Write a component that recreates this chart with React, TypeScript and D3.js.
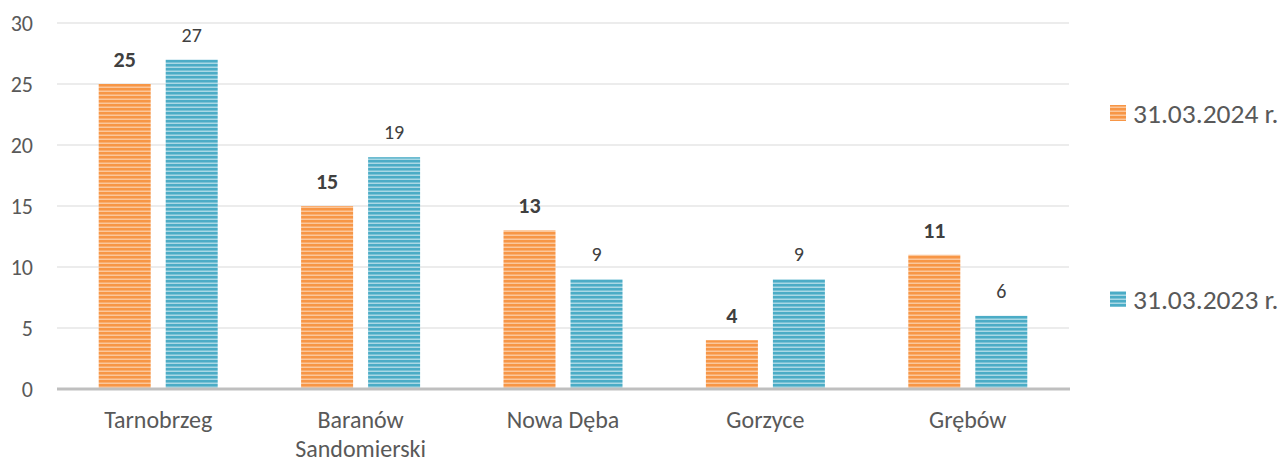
import React from "react";
import * as d3 from "d3";

const categories: string[][] = [["Tarnobrzeg"], ["Baranów", "Sandomierski"], ["Nowa Dęba"], ["Gorzyce"], ["Grębów"]];
const series2024: number[] = [25, 15, 13, 4, 11];
const series2023: number[] = [27, 19, 9, 9, 6];
const seriesNames: string[] = ["31.03.2024 r.", "31.03.2023 r."];
const yTicks: number[] = [0, 5, 10, 15, 20, 25, 30];

const W = 1284;
const H = 466;
const margin = { left: 57, right: 1069, top: 23, bottom: 389 };
const FONT = "Carlito, Calibri, Lato, 'Open Sans', sans-serif";

export default function App() {
  const x = d3.scaleBand<number>().domain(d3.range(categories.length)).range([margin.left, margin.right]).paddingInner(0).paddingOuter(0);
  const y = d3.scaleLinear().domain([0, 30]).range([margin.bottom, margin.top]);
  const barW = 52;
  const gap = 15;
  const data = [series2024, series2023];
  const fills = ["url(#patOrange)", "url(#patBlue)"];

  return (
    <svg width={W} height={H} style={{ position: "absolute", left: 0, top: 0 }} fontFamily={FONT}>
      <defs>
        <pattern id="patOrange" patternUnits="userSpaceOnUse" width={8} height={4}>
          <rect width={8} height={4} fill="#F79646" />
          <rect y={2.5} width={8} height={1.5} fill="#FBC79B" />
        </pattern>
        <pattern id="patBlue" patternUnits="userSpaceOnUse" width={8} height={4}>
          <rect width={8} height={4} fill="#4BACC6" />
          <rect y={2.5} width={8} height={1.5} fill="#A9D8E5" />
        </pattern>
      </defs>
      <rect width={W} height={H} fill="#fff" />
      {yTicks.map((t) => (
        <g key={t}>
          {t !== 0 && <line x1={margin.left} x2={margin.right} y1={y(t)} y2={y(t)} stroke="#D9D9D9" strokeWidth={1} />}
          <text x={33} y={y(t)} dy="0.35em" textAnchor="end" fontSize={22} fill="#595959">{t}</text>
        </g>
      ))}
      {categories.map((c, i) => {
        const cx = (x(i) as number) + x.bandwidth() / 2;
        return (
          <g key={i}>
            {data.map((s, k) => {
              const bx = k === 0 ? cx - gap / 2 - barW : cx + gap / 2;
              const v = s[i];
              return (
                <g key={k}>
                  <rect x={bx} y={y(v)} width={barW} height={y(0) - y(v)} fill={fills[k]} />
                  <text x={bx + barW / 2} y={y(v) - 25} dy="0.35em" textAnchor="middle" fontSize={k === 0 ? 22 : 20} fontWeight={k === 0 ? "bold" : "normal"} fill="#404040">{v}</text>
                </g>
              );
            })}
            {c.map((line, j) => (
              <text key={j} x={cx} y={420 + j * 29} dy="0.35em" textAnchor="middle" fontSize={24} fill="#595959">{line}</text>
            ))}
          </g>
        );
      })}
      <line x1={margin.left} x2={margin.right + 1} y1={y(0)} y2={y(0)} stroke="#BFBFBF" strokeWidth={3} />
      {seriesNames.map((n, k) => {
        const ly = k === 0 ? 113 : 299;
        return (
          <g key={n}>
            <rect x={1110} y={ly - 8} width={16} height={16} fill={fills[k]} />
            <text x={1133} y={ly} dy="0.35em" fontSize={27.5} fill="#595959">{n}</text>
          </g>
        );
      })}
    </svg>
  );
}
